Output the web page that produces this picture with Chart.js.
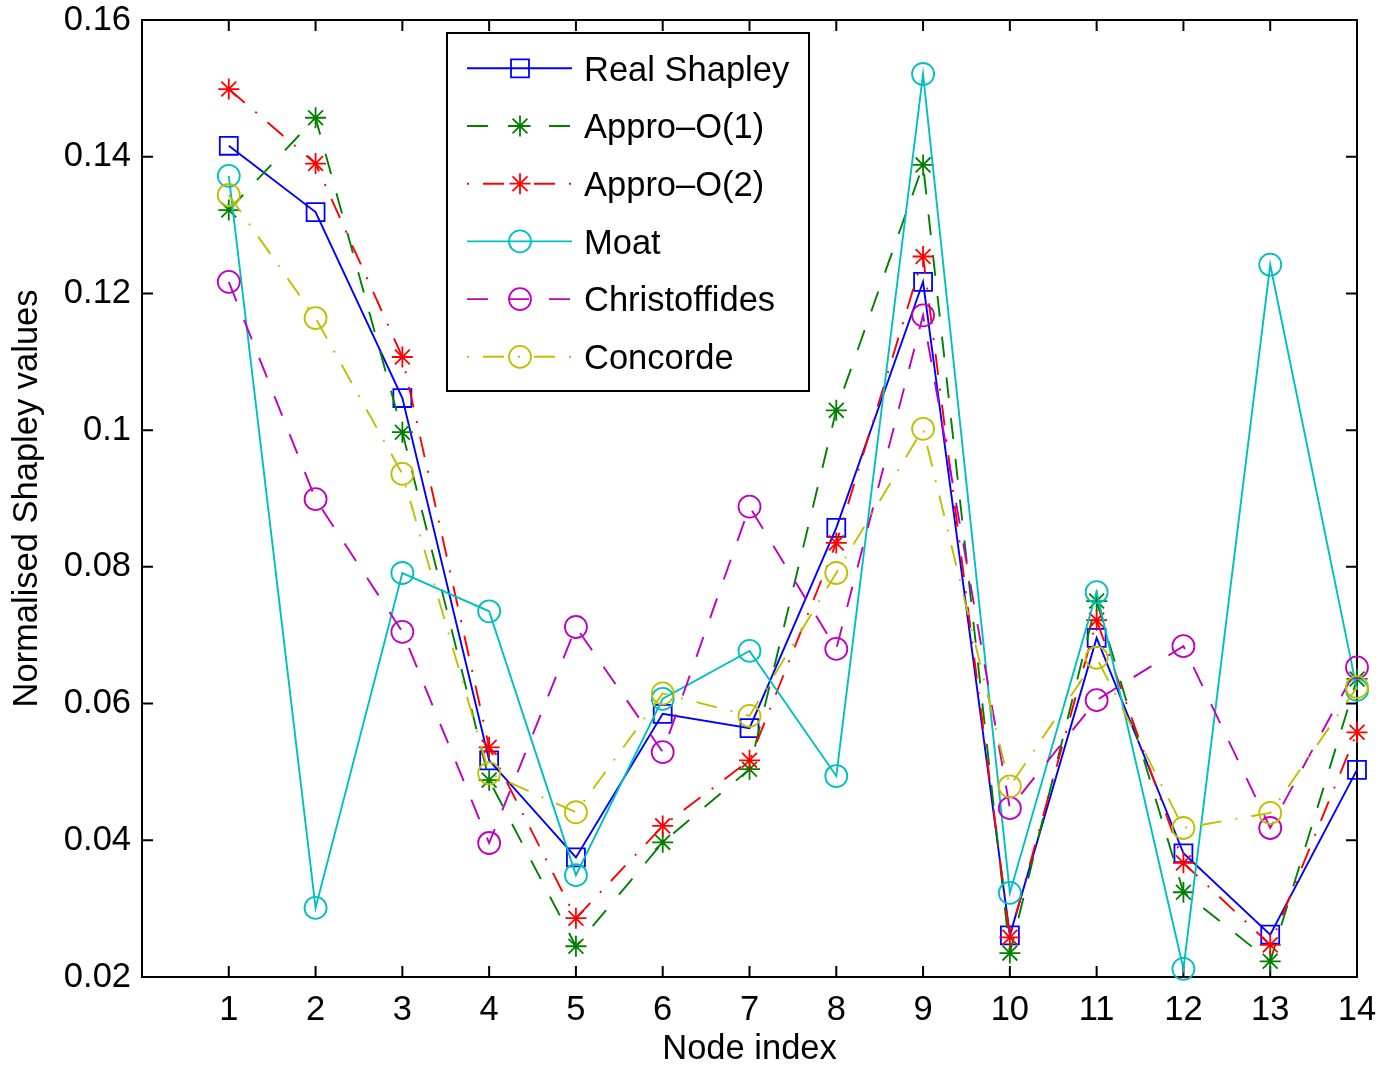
<!DOCTYPE html>
<html>
<head>
<meta charset="utf-8">
<script src="https://cdn.jsdelivr.net/npm/chart.js@4.4.0/dist/chart.umd.min.js"></script>
<style>
html, body { margin: 0; padding: 0; background: #fff; }
#wrap { width: 1380px; height: 1065px; }
</style>
</head>
<body>
<div id="wrap"><canvas id="chart" width="1380" height="1065"></canvas></div>
<script>
var nodes = [1, 2, 3, 4, 5, 6, 7, 8, 9, 10, 11, 12, 13, 14];
var yTicks = [0.02, 0.04, 0.06, 0.08, 0.1, 0.12, 0.14, 0.16];

var realShapley   = [0.1416, 0.1319, 0.1047, 0.0517, 0.0375, 0.0585, 0.0564, 0.0857, 0.1217, 0.0261, 0.0696, 0.0381, 0.0262, 0.0503];
var approO1       = [0.1322, 0.1457, 0.0997, 0.0488, 0.0245, 0.0397, 0.0504, 0.1029, 0.1388, 0.0235, 0.0750, 0.0324, 0.0223, 0.0636];
var approO2       = [0.1499, 0.1390, 0.1107, 0.0536, 0.0286, 0.0421, 0.0517, 0.0835, 0.1254, 0.0258, 0.0722, 0.0367, 0.0247, 0.0558];
var moat          = [0.1372, 0.0301, 0.0791, 0.0735, 0.0349, 0.0607, 0.0677, 0.0494, 0.1521, 0.0323, 0.0763, 0.0212, 0.1242, 0.0620];
var christoffides = [0.1217, 0.0899, 0.0705, 0.0396, 0.0712, 0.0529, 0.0888, 0.0680, 0.1168, 0.0447, 0.0605, 0.0684, 0.0418, 0.0653];
var concorde      = [0.1344, 0.1164, 0.0936, 0.0498, 0.0441, 0.0615, 0.0582, 0.0791, 0.1002, 0.0479, 0.0667, 0.0418, 0.0440, 0.0624];

var FONT = "'Liberation Sans', Arial, Helvetica, sans-serif";
var FS = 34.5;
var DASH = [21, 20];
var DASHDOT = [21, 14, 2, 14];

function pts(values) {
    return values.map(function (v, i) { return { x: nodes[i], y: v }; });
}

function series(label, values, color, dash, style, radius, order) {
    return {
        label: label,
        data: pts(values),
        borderColor: color,
        borderWidth: 1.9,
        borderDash: dash,
        backgroundColor: 'rgba(0,0,0,0)',
        pointStyle: style,
        pointRadius: radius,
        pointBorderColor: color,
        pointBackgroundColor: 'rgba(0,0,0,0)',
        pointBorderWidth: 1.8,
        tension: 0,
        clip: false,
        order: order
    };
}

function noPad(s) {
    s.paddingLeft = 0;
    s.paddingRight = 0;
    s.paddingTop = 0;
    s.paddingBottom = 0;
}

// box with inward ticks on all four sides
var frame = {
    id: 'frame',
    beforeDatasetsDraw: function (chart) {
        var ctx = chart.ctx, a = chart.chartArea;
        var sx = chart.scales.x, sy = chart.scales.y;
        var tl = 11;
        ctx.save();
        ctx.strokeStyle = '#000';
        ctx.lineWidth = 2;
        ctx.setLineDash([]);
        ctx.strokeRect(a.left, a.top, a.right - a.left, a.bottom - a.top);
        ctx.beginPath();
        nodes.forEach(function (v) {
            var px = sx.getPixelForValue(v);
            ctx.moveTo(px, a.bottom); ctx.lineTo(px, a.bottom - tl);
            ctx.moveTo(px, a.top); ctx.lineTo(px, a.top + tl);
        });
        yTicks.forEach(function (v) {
            var py = sy.getPixelForValue(v);
            ctx.moveTo(a.left, py); ctx.lineTo(a.left + tl, py);
            ctx.moveTo(a.right, py); ctx.lineTo(a.right - tl, py);
        });
        ctx.stroke();
        ctx.restore();
    }
};

// legend box: line sample with the marker in the middle
var legendBox = {
    id: 'legendBox',
    afterDraw: function (chart) {
        var ctx = chart.ctx;
        var box = { left: 447, top: 33, right: 809, bottom: 391 };
        var row0 = 68.3, rowStep = 57.7;
        var x0 = 467, x1 = 572, xm = 520, xt = 584;
        ctx.save();
        ctx.fillStyle = '#fff';
        ctx.fillRect(box.left, box.top, box.right - box.left, box.bottom - box.top);
        ctx.strokeStyle = '#000';
        ctx.lineWidth = 2;
        ctx.setLineDash([]);
        ctx.strokeRect(box.left, box.top, box.right - box.left, box.bottom - box.top);
        chart.data.datasets.forEach(function (ds, i) {
            var y = row0 + i * rowStep;
            var dash = ds.borderDash || [];
            ctx.strokeStyle = ds.borderColor;
            ctx.lineWidth = ds.borderWidth;
            ctx.setLineDash(dash);
            // dash-dot samples start on the dot
            ctx.lineDashOffset = dash.length === 4 ? dash[0] + dash[1] : 0;
            ctx.beginPath();
            ctx.moveTo(x0, y);
            ctx.lineTo(x1, y);
            ctx.stroke();
            ctx.setLineDash([]);
            ctx.lineDashOffset = 0;
            ctx.fillStyle = 'rgba(0,0,0,0)';
            ctx.lineWidth = ds.pointBorderWidth;
            Chart.helpers.drawPoint(ctx, {
                pointStyle: ds.pointStyle,
                radius: ds.pointRadius,
                rotation: 0,
                borderWidth: ds.pointBorderWidth
            }, xm, y);
            ctx.fillStyle = '#000';
            ctx.font = FS + 'px ' + FONT;
            ctx.textAlign = 'left';
            ctx.textBaseline = 'alphabetic';
            ctx.fillText(ds.label, xt, y + 12.3);
        });
        ctx.restore();
    }
};

var ctx = document.getElementById('chart').getContext('2d');
var chart = new Chart(ctx, {
    type: 'line',
    data: {
        datasets: [
            series('Real Shapley', realShapley, '#0000ff', [], 'rect', 12.7, 6),
            series('Appro\u2013O(1)', approO1, '#008000', DASH, 'star', 10.5, 5),
            series('Appro\u2013O(2)', approO2, '#ff0000', DASHDOT, 'star', 10.5, 4),
            series('Moat', moat, '#00bfbf', [], 'circle', 11, 3),
            series('Christoffides', christoffides, '#bf00bf', DASH, 'circle', 11, 2),
            series('Concorde', concorde, '#bfbf00', DASHDOT, 'circle', 11, 1)
        ]
    },
    options: {
        responsive: false,
        animation: false,
        devicePixelRatio: 1,
        layout: { padding: { left: 0, right: 23, top: 20, bottom: 0 } },
        plugins: {
            legend: { display: false },
            tooltip: { enabled: false }
        },
        scales: {
            x: {
                type: 'linear',
                min: 0,
                max: 14,
                afterBuildTicks: function (s) {
                    s.ticks = nodes.map(function (v) { return { value: v }; });
                },
                afterFit: function (s) { s.height = 88; noPad(s); },
                grid: { display: false, drawTicks: false },
                border: { display: false },
                ticks: {
                    padding: 13,
                    color: '#000',
                    maxRotation: 0,
                    autoSkip: false,
                    font: { family: FONT, size: FS },
                    callback: function (v) { return String(v); }
                },
                title: {
                    display: true,
                    text: 'Node index',
                    color: '#000',
                    font: { family: FONT, size: FS, lineHeight: 0.9 },
                    padding: { top: 0, bottom: 0 }
                }
            },
            y: {
                min: 0.02,
                max: 0.16,
                afterBuildTicks: function (s) {
                    s.ticks = yTicks.map(function (v) { return { value: v }; });
                },
                afterFit: function (s) { s.width = 142; noPad(s); },
                grid: { display: false, drawTicks: false },
                border: { display: false },
                ticks: {
                    padding: 11,
                    color: '#000',
                    font: { family: FONT, size: FS },
                    callback: function (v) { return String(Number(v.toFixed(2))); }
                },
                title: {
                    display: true,
                    text: 'Normalised Shapley values',
                    color: '#000',
                    font: { family: FONT, size: FS, lineHeight: 1 },
                    padding: { top: 10, bottom: 0 }
                }
            }
        }
    },
    plugins: [frame, legendBox]
});
</script>
</body>
</html>
